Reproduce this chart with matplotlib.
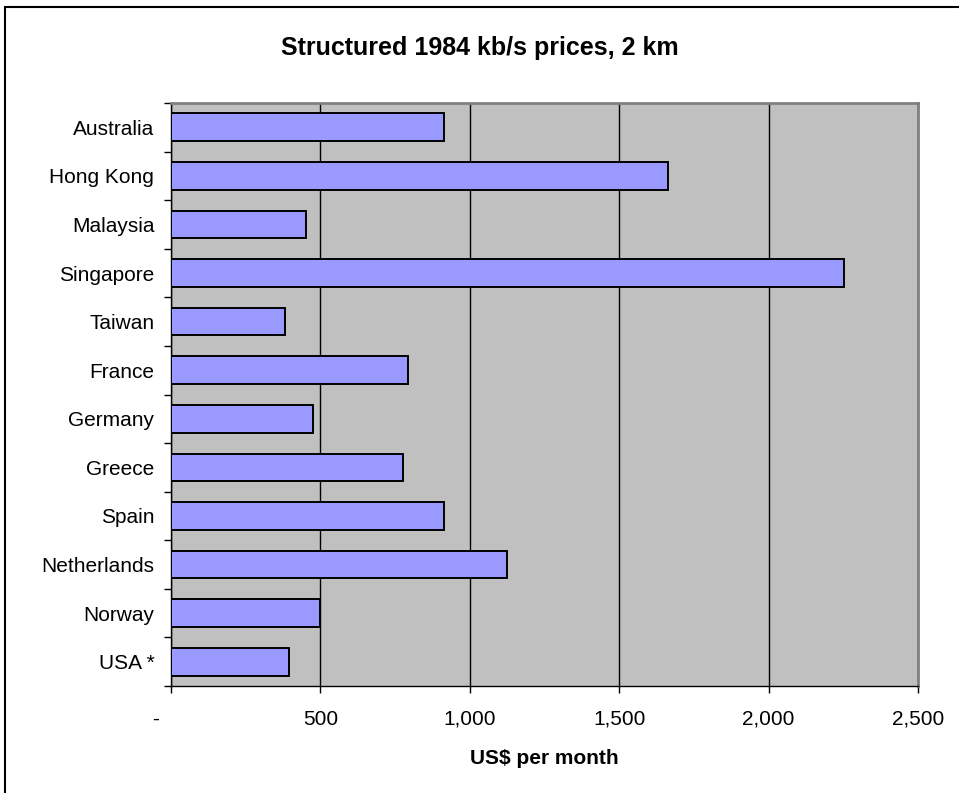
import matplotlib.pyplot as plt
import numpy as np
from matplotlib.patches import Rectangle
from matplotlib.ticker import FixedLocator, FuncFormatter, NullFormatter
from matplotlib.transforms import ScaledTranslation


# -----
# DATA
# -----
countries = ["Australia", "Hong Kong", "Malaysia", "Singapore", "Taiwan", "France",
             "Germany", "Greece", "Spain", "Netherlands", "Norway", "USA *"]
prices = [915, 1662, 452, 2254, 380, 794, 474, 778, 915, 1126, 497, 396]
x_ticks = [0, 500, 1000, 1500, 2000, 2500]

TITLE = "Structured 1984 kb/s prices, 2 km"
X_LABEL = "US$ per month"


# ------
# CHART
# ------
plt.rcParams["font.family"] = ["Liberation Sans", "DejaVu Sans"]

fig = plt.figure(figsize=(9.59, 7.93), dpi=100)
ax = fig.add_axes([171 / 959, 1 - 686 / 793, (918 - 171) / 959, (686 - 103) / 793])

y = np.arange(len(countries))
ax.barh(y, prices, height=0.57, color="#9999FF", edgecolor="black", linewidth=1.4, zorder=3)

ax.set_xlim(0, 2500)
ax.set_ylim(len(countries) - 0.5, -0.5)
ax.set_facecolor("#C0C0C0")

# x axis
ax.xaxis.set_major_locator(FixedLocator(x_ticks))
ax.xaxis.set_major_formatter(FuncFormatter(lambda v, pos: "-" if v == 0 else f"{v:,.0f}"))
ax.tick_params(axis="x", direction="out", length=5, width=1, pad=12, labelsize=15)
ax.xaxis.grid(True, color="black", linewidth=1, zorder=1)
ax.set_axisbelow(True)

# y axis: ticks sit between categories, labels centred on the bars
ax.yaxis.set_major_locator(FixedLocator(np.arange(-0.5, len(countries), 1.0)))
ax.yaxis.set_major_formatter(NullFormatter())
ax.yaxis.set_minor_locator(FixedLocator(y))
ax.set_yticklabels(countries, minor=True)
ax.tick_params(axis="y", which="major", direction="out", length=5, width=1)
ax.tick_params(axis="y", which="minor", length=0, pad=12, labelsize=15)

for side in ["top", "right"]:
    ax.spines[side].set_color("#808080")
    ax.spines[side].set_linewidth(2)
for side in ["left", "bottom"]:
    ax.spines[side].set_color("black")
    ax.spines[side].set_linewidth(1)

# accounting style zero sits a bit left of its tick
zero_label = ax.get_xticklabels()[0]
zero_label.set_transform(zero_label.get_transform() + ScaledTranslation(-0.15, 0, fig.dpi_scale_trans))

fig.text(0.5, 1 - 48 / 793, TITLE, ha="center", va="center", fontsize=18, fontweight="bold")
fig.text(544 / 959, 1 - 759 / 793, X_LABEL, ha="center", va="center", fontsize=15, fontweight="bold")

# chart frame
fig.patches.append(Rectangle((5 / 959, -0.05), 1.1, 1 - 7 / 793 + 0.05, transform=fig.transFigure,
                             fill=False, edgecolor="black", linewidth=1.5))

fig.savefig("out.png", dpi=100, facecolor="white")
plt.close(fig)
